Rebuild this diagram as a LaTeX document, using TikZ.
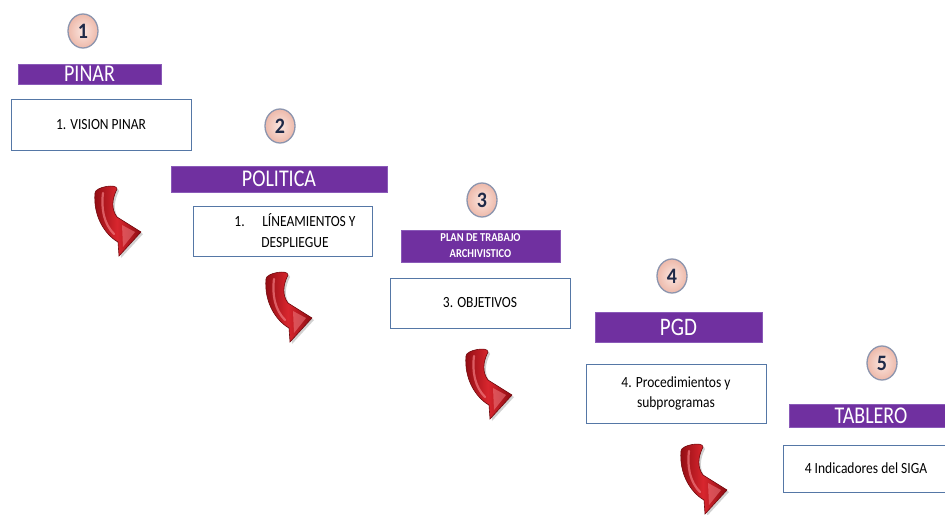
\documentclass[tikz,border=0pt]{standalone}
\usepackage{graphicx}
\usepackage{fontspec}
\setmainfont{Carlito}
\usetikzlibrary{shapes.geometric}
\definecolor{purp}{HTML}{7030A0}
\definecolor{purpedge}{HTML}{8A5AB8}
\definecolor{boxline}{HTML}{5577A6}
\definecolor{numc}{HTML}{1F2A48}
\definecolor{ringc}{HTML}{8C95AE}
\definecolor{peachin}{HTML}{FBE6E0}
\definecolor{peachout}{HTML}{EDB9AA}
\definecolor{arrdark}{HTML}{8E0C12}
\definecolor{arrmid}{HTML}{D8262E}
\definecolor{arrlight}{HTML}{F07A80}
\newcommand{\tallone}[2][1.2]{\scalebox{1}[#1]{#2}}
\newcommand{\tallmulti}[2][1.15]{\scalebox{1}[#1]{\begin{tabular}{@{}c@{}}#2\end{tabular}}}
\tikzset{
  bar/.style={fill=purp, draw=purpedge, line width=0.8pt, text=white, inner sep=0pt,
    align=center, font=\fontsize{20}{22}\selectfont},
  stepbox/.style={draw=boxline, fill=white, line width=0.8pt, inner sep=0pt,
    align=center, font=\fontsize{13.5}{17.5}\selectfont},
  boxtext/.style={align=center, inner sep=0pt, font=\fontsize{13.5}{18}\selectfont},
  numdisc/.style={ellipse, draw=ringc, line width=1.3pt, inner color=peachin,
    outer color=peachout, minimum width=30pt, minimum height=34pt, inner sep=0pt,
    text=numc, font=\bfseries\fontsize{20}{22}\selectfont},
  redcurl/.pic={
    \fill[black, opacity=0.18, xshift=2pt, yshift=-2pt]
      (11,14) .. controls (11,8) and (33,4) .. (33,10)
      .. controls (28,20) and (27,30) .. (33,38) -- (57,53) -- (35,77) -- (34,63)
      .. controls (20,55) and (9,36) .. (11,14) -- cycle;
    \shade[left color=arrdark, right color=arrdark, middle color=arrmid,
      draw=arrdark!80!black, line width=0.6pt]
      (11,14) .. controls (11,8) and (33,4) .. (33,10)
      .. controls (28,20) and (27,30) .. (33,38) -- (57,53) -- (35,77) -- (34,63)
      .. controls (20,55) and (9,36) .. (11,14) -- cycle;
    \draw[arrlight, line width=2.2pt, line cap=round, opacity=0.7]
      (19,14) .. controls (17,30) and (20,45) .. (30,55);
    \fill[arrlight, opacity=0.55] (38,46) -- (51,53) -- (39,68) -- cycle;
  }
}
\begin{document}
\begin{tikzpicture}[x=1pt,y=-1pt]
\useasboundingbox[fill=white] (0,0) rectangle (945,514);

% step 1
\node[numdisc] (n1) at (83,31) {\tallone[1.1]{1}};
\node[bar, minimum width=143pt, minimum height=20pt] (bar1) at (89.5,74) {\tallone{PINAR}};
\node[stepbox, minimum width=180pt, minimum height=51pt] (box1) at (101,124.5) {\tallone[1.15]{1. VISION PINAR}};

% step 2
\node[numdisc] (n2) at (280,126) {\tallone[1.1]{2}};
\node[bar, minimum width=216pt, minimum height=26pt] (bar2) at (279,179) {\tallone{POLITICA}};
\node[stepbox, minimum width=179pt, minimum height=50pt] (box2) at (282.5,231) {};
\node[boxtext] (t2) at (295,233) {\tallmulti{1.\hspace{1.3em}LÍNEAMIENTOS Y\\DESPLIEGUE}};

% step 3
\node[numdisc] (n3) at (482,200) {\tallone[1.1]{3}};
\node[bar, minimum width=159pt, minimum height=30pt, font=\bfseries\fontsize{10.5}{14}\selectfont]
  (bar3) at (480.5,246) {\raisebox{-1pt}{\tallmulti{PLAN DE TRABAJO\\ARCHIVISTICO}}};
\node[stepbox, minimum width=180pt, minimum height=50pt] (box3) at (480,303) {\tallone[1.15]{3. OBJETIVOS}};

% step 4
\node[numdisc] (n4) at (672,276) {\tallone[1.1]{4}};
\node[bar, minimum width=167pt, minimum height=30pt, font=\fontsize{21}{23}\selectfont]
  (bar4) at (678.5,327) {\tallone{PGD}};
\node[stepbox, minimum width=180pt, minimum height=59pt] (box4) at (676,393.5)
  {\raisebox{-1.5pt}{\tallmulti{4. Procedimientos y\\subprogramas}}};

% step 5
\node[numdisc] (n5) at (882,363) {\tallone[1.1]{5}};
\node[bar, minimum width=164pt, minimum height=23pt] (bar5) at (871,415.5) {\tallone{TABLERO}};
\node[stepbox, minimum width=166pt, minimum height=47pt] (box5) at (866,468.5)
  {\tallone[1.15]{4 Indicadores del SIGA}};

% curved red arrows
\pic at (84,179) {redcurl};
\pic at (255,265) {redcurl};
\pic at (455,342) {redcurl};
\pic at (670,437) {redcurl};
\end{tikzpicture}
\end{document}
